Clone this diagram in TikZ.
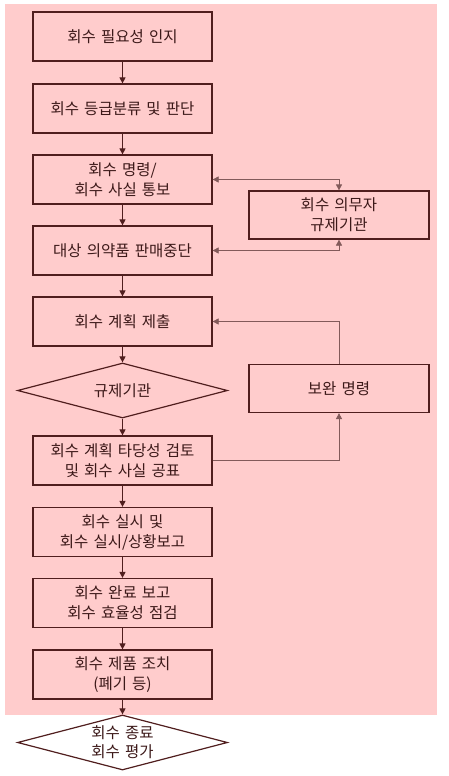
\documentclass[tikz,border=0pt]{standalone}
\usepackage{fontspec}
\setmainfont[WordSpace=1.5]{Noto Sans CJK KR}
\usetikzlibrary{shapes.geometric,arrows.meta}
\definecolor{recallbg}{RGB}{255,204,204}
\definecolor{recallline}{RGB}{80,30,30}
\definecolor{recalltext}{RGB}{60,25,25}
\definecolor{recallthin}{RGB}{130,90,90}

\begin{document}
\begin{tikzpicture}[x=1pt,y=-1pt,
  box/.style={draw=recallline,line width=1.2pt,fill=recallbg,minimum width=179pt,
    minimum height=49pt,inner sep=0pt,align=center,text=recalltext,
    font=\fontsize{15.5}{20}\selectfont},
  sidebox/.style={box,minimum width=180pt,minimum height=48pt},
  decision/.style={draw=recallline,line width=1.2pt,diamond,shape aspect=3.8,
    minimum width=210pt,minimum height=55pt,inner sep=0pt,align=center,
    text=recalltext,font=\fontsize{15.5}{19}\selectfont},
  flow/.style={draw=recallline,line width=0.9pt,-{Triangle[length=6pt,width=6pt]}},
  link/.style={draw=recallthin,line width=0.7pt}]
\useasboundingbox (0,0) rectangle (448,776);
\fill[recallbg] (5,4) rectangle (437,715);
% main column
\node[box] (need) at (122.5,36.5) {회수 필요성 인지};
\node[box] (grade) at (122.5,108.5) {회수 등급분류 및 판단};
\node[box] (order) at (122.5,179.5) {회수 명령/\\회수 사실 통보};
\node[box] (stop) at (122.5,250.5) {대상 의약품 판매중단};
\node[box] (plan) at (122.5,321.5) {회수 계획 제출};
\node[decision] (agency) at (122.5,390.5) {규제기관};
\node[box] (review) at (122.5,460.5) {회수 계획 타당성 검토\\및 회수 사실 공표};
\node[box] (run) at (122.5,532) {회수 실시 및\\회수 실시/상황보고};
\node[box] (done) at (122.5,603) {회수 완료 보고\\회수 효율성 점검};
\node[box] (dispose) at (122.5,674.5) {회수 제품 조치\\(폐기 등)};
\node[decision,fill=white] (finish) at (122.5,742.5) {회수 종료\\회수 평가};
% right column
\node[sidebox] (duty) at (339,215) {회수 의무자\\규제기관};
\node[sidebox] (fix) at (339,388.5) {보완 명령};
% arrows
\draw[flow] (need) -- (grade);
\draw[flow] (grade) -- (order);
\draw[flow] (order) -- (stop);
\draw[flow] (stop) -- (plan);
\draw[flow] (plan) -- (agency);
\draw[flow] (agency) -- (review);
\draw[flow] (review) -- (run);
\draw[flow] (run) -- (done);
\draw[flow] (done) -- (dispose);
\draw[flow] (dispose) -- (finish);
\draw[link,{Triangle[length=6pt,width=6pt]}-{Triangle[length=6pt,width=6pt]}] (order.east) -| (duty.north);
\draw[link,{Triangle[length=6pt,width=6pt]}-{Triangle[length=6pt,width=6pt]}] (stop.east) -| (duty.south);
\draw[link,-{Triangle[length=6pt,width=6pt]}] (fix.north) |- (plan.east);
\draw[link,-{Triangle[length=6pt,width=6pt]}] (review.east) -| (fix.south);
\end{tikzpicture}
\end{document}
